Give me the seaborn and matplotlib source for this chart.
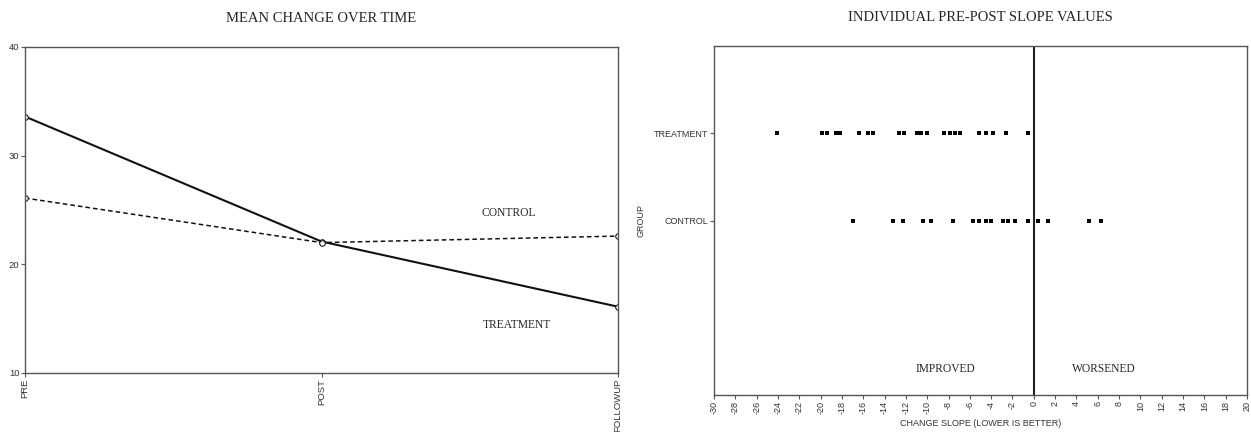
import matplotlib
matplotlib.use('Agg')
import matplotlib.pyplot as plt
import pandas as pd
import seaborn as sns

# Средние значения по времени
time_points = ['PRE', 'POST', 'FOLLOWUP']
treatment_mean = [33.6, 22.1, 16.1]
control_mean = [26.1, 22.0, 22.6]

# Индивидуальные наклоны
treatment_slopes = [-24.1, -19.9, -19.4, -18.6, -18.2, -16.4, -15.6, -15.1,
                    -12.6, -12.2, -11.0, -10.6, -10.0, -8.4, -7.9, -7.4,
                    -6.9, -5.1, -4.5, -3.8, -2.6, -0.5]
control_slopes = [-17.0, -13.2, -12.3, -10.4, -9.6, -7.6, -5.7, -5.1, -4.5,
                  -4.0, -2.9, -2.4, -1.8, -0.5, 0.4, 1.3, 5.2, 6.3]
group_names = ['TREATMENT', 'CONTROL']
slope_ticks = list(range(-30, 21, 2))

sns.set_style('white')
serif = 'Liberation Serif'
sans = 'Liberation Sans'
plt.rcParams['font.family'] = sans
spine_col = '#555555'

means = pd.DataFrame({
    'time': list(range(3)) * 2,
    'mean': treatment_mean + control_mean,
    'group': ['TREATMENT'] * 3 + ['CONTROL'] * 3,
})
slopes = pd.DataFrame({
    'slope': treatment_slopes + control_slopes,
    'y': [3] * len(treatment_slopes) + [2] * len(control_slopes),
})

fig = plt.figure(figsize=(12.51, 4.32), dpi=100)
ax1 = fig.add_axes([25 / 1251, 1 - 373 / 432, (618 - 25) / 1251, (373 - 47) / 432])
ax2 = fig.add_axes([714 / 1251, 1 - 395 / 432, (1247 - 714) / 1251, (395 - 46) / 432])

# Левый график: средние изменения
sns.lineplot(data=means, x='time', y='mean', style='group',
             style_order=['TREATMENT', 'CONTROL'],
             dashes={'TREATMENT': '', 'CONTROL': (3, 2)},
             markers={'TREATMENT': 'o', 'CONTROL': 'o'},
             color='#111111', markersize=4, markerfacecolor='white',
             markeredgecolor='#111111', ax=ax1, legend=False)
for line in ax1.get_lines():
    if line.get_linestyle() == '-':
        line.set_linewidth(1.5)
    else:
        line.set_linewidth(1.1)
ax1.set_xlim(0, 2)
ax1.set_ylim(10, 40)
ax1.set_xticks(range(3))
ax1.set_xticklabels(time_points, rotation=90, fontsize=6.8, color='#333333')
ax1.set_yticks([10, 20, 30, 40])
ax1.tick_params(axis='y', labelsize=6.8, labelcolor='#333333', length=3, width=0.8,
                color=spine_col, left=True, pad=1)
ax1.tick_params(axis='x', length=3, width=0.8, color=spine_col, bottom=True, pad=1)
ax1.set_xlabel('')
ax1.set_ylabel('')
ax1.set_title('MEAN CHANGE OVER TIME', family=serif, fontsize=10.5, pad=18)
ax1.text(1.63, 24.7, 'CONTROL', family=serif, fontsize=8.3, ha='center', va='center')
ax1.text(1.66, 14.4, 'TREATMENT', family=serif, fontsize=8.3, ha='center', va='center')
for s in ax1.spines.values():
    s.set_color(spine_col)
    s.set_linewidth(1.0)

# Правый график: индивидуальные наклоны
sns.scatterplot(data=slopes, x='slope', y='y', marker='s', s=10, color='black',
                edgecolor='black', linewidth=0, ax=ax2)
ax2.axvline(0, color='#222222', lw=1.5)
ax2.set_xlim(-30, 20)
ax2.set_ylim(0, 4)
ax2.set_xticks(slope_ticks)
ax2.set_xticklabels([str(t) for t in slope_ticks], rotation=90, fontsize=6.5, color='#333333')
ax2.set_yticks([3, 2])
ax2.set_yticklabels(group_names, fontsize=6.5, color='#333333')
ax2.tick_params(axis='both', length=3, width=0.8, color=spine_col, left=True, bottom=True, pad=1)
ax2.set_xlabel('CHANGE SLOPE (LOWER IS BETTER)', fontsize=6.5, color='#333333', labelpad=4)
ax2.set_ylabel('GROUP', fontsize=6.5, color='#333333', labelpad=6)
ax2.set_title('INDIVIDUAL PRE-POST SLOPE VALUES', family=serif, fontsize=10.5, pad=18)
ax2.text(-8.3, 0.3, 'IMPROVED', family=serif, fontsize=8.3, ha='center', va='center')
ax2.text(6.6, 0.3, 'WORSENED', family=serif, fontsize=8.3, ha='center', va='center')
for s in ax2.spines.values():
    s.set_color(spine_col)
    s.set_linewidth(1.0)

fig.savefig('out.png', dpi=100)
